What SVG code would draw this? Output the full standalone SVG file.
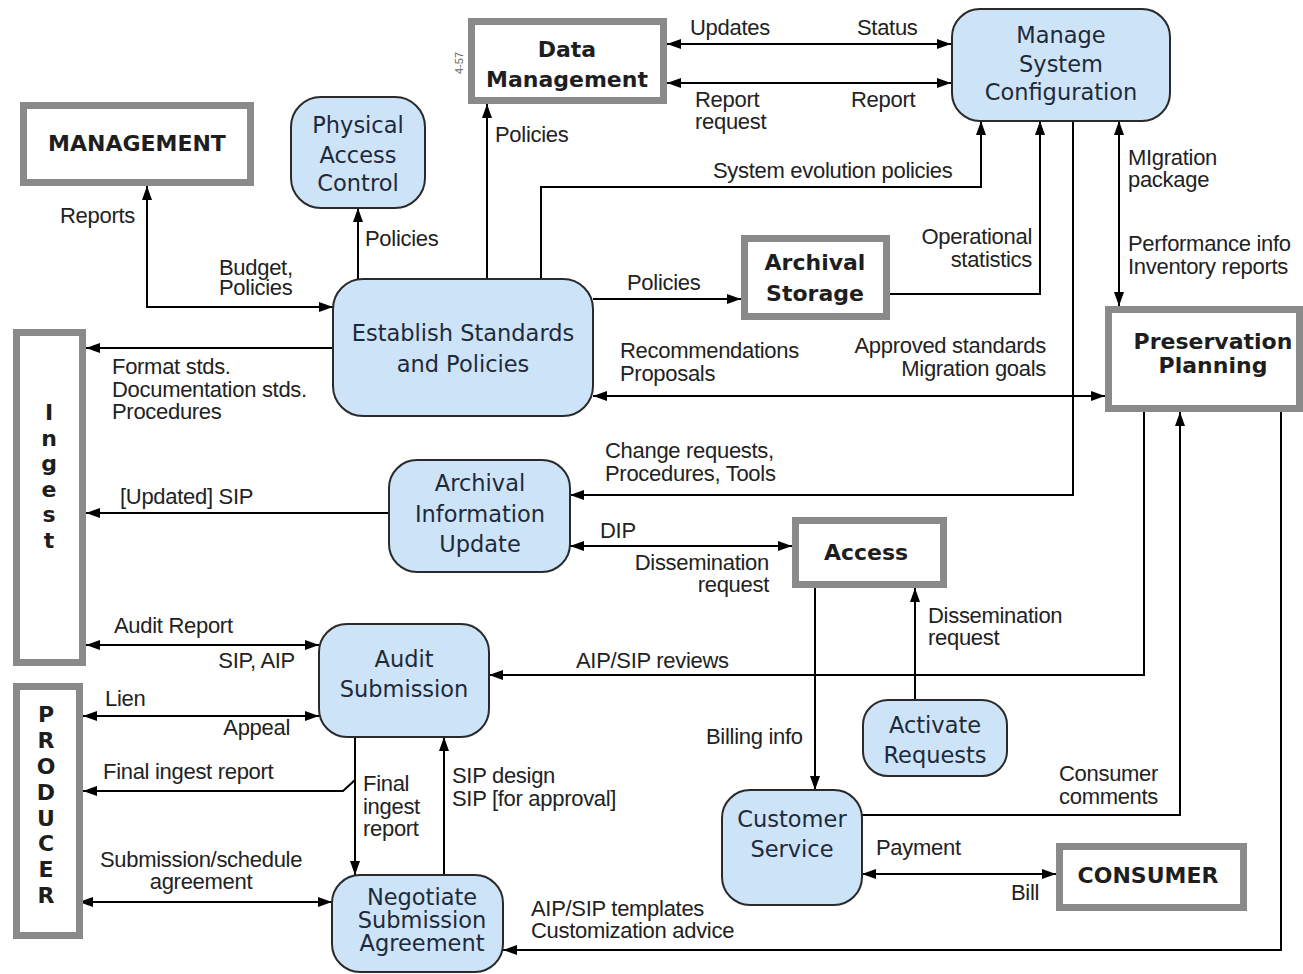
<svg xmlns="http://www.w3.org/2000/svg" width="1303" height="974" viewBox="0 0 1303 974">
<style>
.ent{fill:#fff;stroke:#8a8a8a;stroke-width:7}
.fn{fill:#cde3f8;stroke:#2a2a2a;stroke-width:2}
.et{font-family:"DejaVu Sans",Verdana,sans-serif;font-weight:bold;font-size:22px;fill:#1e1e1e;text-anchor:middle}
.nt{font-family:"DejaVu Sans",Verdana,sans-serif;font-size:22.5px;fill:#1e2a3a;text-anchor:middle}
.lb{font-family:"Liberation Sans",Arial,sans-serif;font-size:22px;fill:#222;letter-spacing:-0.3px}
.r{text-anchor:end}
.m{text-anchor:middle}
.c path{fill:none;stroke:#000;stroke-width:2}
</style>
<defs>
<marker id="a" viewBox="0 0 14 10" refX="14" refY="5" markerWidth="14" markerHeight="10" markerUnits="userSpaceOnUse" orient="auto-start-reverse">
<path d="M0,0 L14,5 L0,10 z" fill="#000"/>
</marker>
</defs>
<rect width="1303" height="974" fill="#fff"/>

<g class="c" id="connectors">
<path d="M667,44 H951" marker-start="url(#a)" marker-end="url(#a)"/>
<path d="M667,83 H951" marker-start="url(#a)" marker-end="url(#a)"/>
<path d="M147,186 V307 H333" marker-start="url(#a)" marker-end="url(#a)"/>
<path d="M358,279 V208" marker-end="url(#a)"/>
<path d="M487,279 V104" marker-end="url(#a)"/>
<path d="M541,279 V187 H981 V121" marker-end="url(#a)"/>
<path d="M593,299 H741" marker-end="url(#a)"/>
<path d="M890,294 H1040 V121" marker-end="url(#a)"/>
<path d="M1119,121 V306" marker-start="url(#a)" marker-end="url(#a)"/>
<path d="M333,348 H86" marker-end="url(#a)"/>
<path d="M593,396 H1105" marker-start="url(#a)" marker-end="url(#a)"/>
<path d="M1073,121 V495 H570" marker-end="url(#a)"/>
<path d="M389,513 H86" marker-end="url(#a)"/>
<path d="M570,546 H792" marker-start="url(#a)" marker-end="url(#a)"/>
<path d="M86,645 H319" marker-start="url(#a)" marker-end="url(#a)"/>
<path d="M1144,412 V675 H489" marker-end="url(#a)"/>
<path d="M83,716 H319" marker-start="url(#a)" marker-end="url(#a)"/>
<path d="M355,737 V875" marker-end="url(#a)"/>
<path d="M355,780 L343,791 H83" marker-end="url(#a)"/>
<path d="M444,875 V737" marker-end="url(#a)"/>
<path d="M79,902 H332" marker-start="url(#a)" marker-end="url(#a)"/>
<path d="M1281,412 V950 H503" marker-end="url(#a)"/>
<path d="M815,588 V790" marker-end="url(#a)"/>
<path d="M915,700 V588" marker-end="url(#a)"/>
<path d="M862,815 H1180 V412" marker-end="url(#a)"/>
<path d="M862,874 H1056" marker-start="url(#a)" marker-end="url(#a)"/>
</g>

<g id="labels">
<text class="lb" x="690" y="35">Updates</text>
<text class="lb" x="857" y="35">Status</text>
<text class="lb" x="695" y="107">Report</text>
<text class="lb" x="695" y="129">request</text>
<text class="lb" x="851" y="107">Report</text>
<text class="lb" x="60" y="223">Reports</text>
<text class="lb" x="219" y="275">Budget,</text>
<text class="lb" x="219" y="295">Policies</text>
<text class="lb" x="365" y="246">Policies</text>
<text class="lb" x="495" y="142">Policies</text>
<text class="lb" x="713" y="178">System evolution policies</text>
<text class="lb" x="627" y="290">Policies</text>
<text class="lb r" x="1032" y="244">Operational</text>
<text class="lb r" x="1032" y="267">statistics</text>
<text class="lb" x="1128" y="165">MIgration</text>
<text class="lb" x="1128" y="187">package</text>
<text class="lb" x="1128" y="251">Performance info</text>
<text class="lb" x="1128" y="274">Inventory reports</text>
<text class="lb" x="112" y="374">Format stds.</text>
<text class="lb" x="112" y="397">Documentation stds.</text>
<text class="lb" x="112" y="419">Procedures</text>
<text class="lb" x="620" y="358">Recommendations</text>
<text class="lb" x="620" y="381">Proposals</text>
<text class="lb r" x="1046" y="353">Approved standards</text>
<text class="lb r" x="1046" y="376">Migration goals</text>
<text class="lb" x="605" y="458">Change requests,</text>
<text class="lb" x="605" y="481">Procedures, Tools</text>
<text class="lb" x="120" y="504">[Updated] SIP</text>
<text class="lb" x="600" y="538">DIP</text>
<text class="lb r" x="769" y="570">Dissemination</text>
<text class="lb r" x="769" y="592">request</text>
<text class="lb" x="114" y="633">Audit Report</text>
<text class="lb r" x="295" y="668">SIP, AIP</text>
<text class="lb" x="576" y="668">AIP/SIP reviews</text>
<text class="lb" x="105" y="706">Lien</text>
<text class="lb r" x="290" y="735">Appeal</text>
<text class="lb" x="103" y="779">Final ingest report</text>
<text class="lb" x="363" y="791">Final</text>
<text class="lb" x="363" y="814">ingest</text>
<text class="lb" x="363" y="836">report</text>
<text class="lb" x="452" y="783">SIP design</text>
<text class="lb" x="452" y="806">SIP [for approval]</text>
<text class="lb" x="706" y="744">Billing info</text>
<text class="lb" x="928" y="623">Dissemination</text>
<text class="lb" x="928" y="645">request</text>
<text class="lb m" x="201" y="867">Submission/schedule</text>
<text class="lb m" x="201" y="889">agreement</text>
<text class="lb" x="531" y="916">AIP/SIP templates</text>
<text class="lb" x="531" y="938">Customization advice</text>
<text class="lb" x="1059" y="781">Consumer</text>
<text class="lb" x="1059" y="804">comments</text>
<text class="lb" x="876" y="855">Payment</text>
<text class="lb" x="1011" y="900">Bill</text>
<text x="463" y="63" transform="rotate(-90 463 63)" font-family="Liberation Sans,Arial,sans-serif" font-size="11" fill="#666" text-anchor="middle">4-57</text>
</g>

<g id="management">
<rect class="ent" x="23.5" y="105.5" width="227" height="77"/>
<text class="et" x="137" y="151" font-size="23">MANAGEMENT</text>
</g>
<g id="data-management">
<rect class="ent" x="471.5" y="21.5" width="192" height="79"/>
<text class="et" x="567" y="57">Data</text>
<text class="et" x="567" y="87">Management</text>
</g>
<g id="physical-access-control">
<rect class="fn" x="291" y="97" width="134" height="111" rx="30"/>
<text class="nt" x="358" y="133">Physical</text>
<text class="nt" x="358" y="163">Access</text>
<text class="nt" x="358" y="191">Control</text>
</g>
<g id="manage-system-configuration">
<rect class="fn" x="952" y="9" width="218" height="112" rx="28"/>
<text class="nt" x="1061" y="43">Manage</text>
<text class="nt" x="1061" y="72">System</text>
<text class="nt" x="1061" y="100">Configuration</text>
</g>
<g id="establish-standards">
<rect class="fn" x="333" y="279" width="260" height="137" rx="30"/>
<text class="nt" x="463" y="341">Establish Standards</text>
<text class="nt" x="463" y="372">and Policies</text>
</g>
<g id="archival-storage">
<rect class="ent" x="744.5" y="238.5" width="142" height="78"/>
<text class="et" x="815" y="270">Archival</text>
<text class="et" x="815" y="301">Storage</text>
</g>
<g id="preservation-planning">
<rect class="ent" x="1108.5" y="309.5" width="191" height="99"/>
<text class="et" x="1213" y="349">Preservation</text>
<text class="et" x="1213" y="373">Planning</text>
</g>
<g id="ingest">
<rect class="ent" x="16.5" y="332.5" width="66" height="330"/>
<text class="et" x="49" y="420">I</text>
<text class="et" x="49" y="446">n</text>
<text class="et" x="49" y="471">g</text>
<text class="et" x="49" y="497">e</text>
<text class="et" x="49" y="522">s</text>
<text class="et" x="49" y="548">t</text>
</g>
<g id="archival-information-update">
<rect class="fn" x="389" y="460" width="181" height="112" rx="28"/>
<text class="nt" x="480" y="491">Archival</text>
<text class="nt" x="480" y="522">Information</text>
<text class="nt" x="480" y="552">Update</text>
</g>
<g id="access">
<rect class="ent" x="795.5" y="520.5" width="148" height="64"/>
<text class="et" x="866" y="560" font-size="23">Access</text>
</g>
<g id="audit-submission">
<rect class="fn" x="319" y="624" width="170" height="113" rx="28"/>
<text class="nt" x="404" y="667">Audit</text>
<text class="nt" x="404" y="697">Submission</text>
</g>
<g id="producer">
<rect class="ent" x="16.5" y="686.5" width="63" height="249"/>
<text class="et" x="46" y="722">P</text>
<text class="et" x="46" y="748">R</text>
<text class="et" x="46" y="774">O</text>
<text class="et" x="46" y="800">D</text>
<text class="et" x="46" y="826">U</text>
<text class="et" x="46" y="851">C</text>
<text class="et" x="46" y="877">E</text>
<text class="et" x="46" y="903">R</text>
</g>
<g id="activate-requests">
<rect class="fn" x="863" y="700" width="144" height="76" rx="25"/>
<text class="nt" x="935" y="733">Activate</text>
<text class="nt" x="935" y="763">Requests</text>
</g>
<g id="customer-service">
<rect class="fn" x="722" y="790" width="140" height="115" rx="28"/>
<text class="nt" x="792" y="827">Customer</text>
<text class="nt" x="792" y="857">Service</text>
</g>
<g id="consumer">
<rect class="ent" x="1059.5" y="846.5" width="184" height="61"/>
<text class="et" x="1148" y="883" font-size="23">CONSUMER</text>
</g>
<g id="negotiate-submission-agreement">
<rect class="fn" x="332" y="875" width="171" height="97" rx="28"/>
<text class="nt" x="422" y="905" font-size="20">Negotiate</text>
<text class="nt" x="422" y="928" font-size="20">Submission</text>
<text class="nt" x="422" y="951" font-size="20">Agreement</text>
</g>
</svg>
